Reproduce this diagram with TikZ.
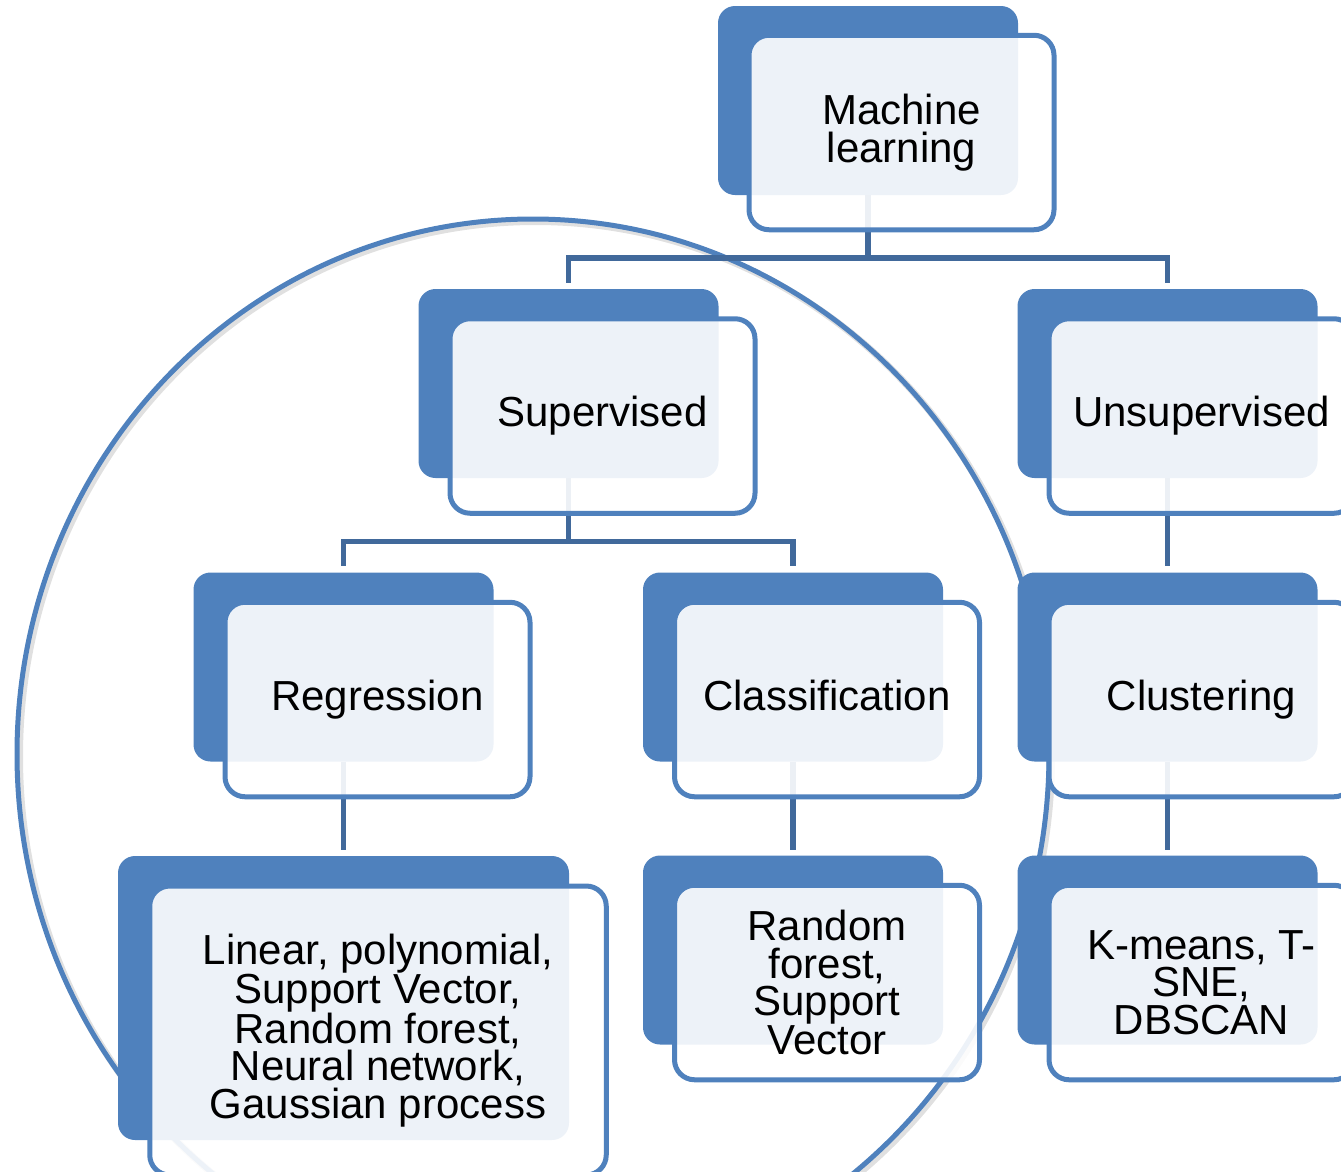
\documentclass[tikz,border=0pt]{standalone}
\usepackage{fontspec}
\setmainfont{Liberation Sans}
\definecolor{accent}{HTML}{4F81BD}
\definecolor{connc}{HTML}{41699B}
\begin{document}
\begin{tikzpicture}[x=1pt,y=-1pt,
  darkbox/.style={fill=accent, draw=none, rounded corners=17pt, minimum width=300pt, minimum height=189pt, inner sep=0pt, outer sep=0pt},
  litebox/.style={fill=white, fill opacity=0.9, text opacity=1, draw=accent, line width=5pt, rounded corners=20pt, minimum width=305pt, minimum height=194.5pt, inner sep=0pt, outer sep=0pt, align=center, font=\fontsize{42}{37.5}\selectfont},
  conn/.style={draw=connc, line width=5.5pt},
]
\useasboundingbox (0,0) rectangle (1341,1171);
\clip (0,0) rectangle (1341,1171);
% big oval with faint shadow
\draw[black, opacity=0.12, line width=7pt] (535.5,756.5) ellipse [x radius=516pt, y radius=535pt];
\draw[accent, line width=5pt] (533,754) ellipse [x radius=516pt, y radius=535pt];
% dark back boxes
\node[darkbox] (mlD)  at (868,100.5) {};
\node[darkbox] (supD) at (568.5,383.5) {};
\node[darkbox] (unsD) at (1167.5,383.5) {};
\node[darkbox] (regD) at (343.5,667) {};
\node[darkbox] (claD) at (793,667) {};
\node[darkbox] (cluD) at (1167.5,667) {};
\node[darkbox, minimum width=451pt, minimum height=284pt] (linD) at (343.5,998) {};
\node[darkbox] (rfD)  at (793,950) {};
\node[darkbox] (kmD)  at (1167.5,950) {};
% connectors
\draw[conn] (mlD.south) -- ++(0,63) coordinate (mlJ);
\draw[conn,shorten >=6pt] (mlJ) -| (supD.north);
\draw[conn,shorten >=6pt] (mlJ) -| (unsD.north);
\draw[conn] (supD.south) -- ++(0,63.5) coordinate (supJ);
\draw[conn,shorten >=7pt] (supJ) -| (regD.north);
\draw[conn,shorten >=7pt] (supJ) -| (claD.north);
\draw[conn,shorten >=7pt] (unsD.south) -- (cluD.north);
\draw[conn,shorten >=6pt] (regD.south) -- (linD.north);
\draw[conn,shorten >=6pt] (claD.south) -- (rfD.north);
\draw[conn,shorten >=6pt] (cluD.south) -- (kmD.north);
% front boxes with text
\node[litebox] (ml)  at (901.5,132.5) {Machine\\learning};
\node[litebox] (sup) at (602.5,416) {Supervised};
\node[litebox] (uns) at (1201.5,416) {Unsupervised};
\node[litebox] (reg) at (377.5,699.5) {Regression};
\node[litebox] (cla) at (827,699.5) {Classification\vphantom{g}};
\node[litebox] (clu) at (1201.5,699.5) {Clustering};
\node[litebox, minimum width=456.5pt, minimum height=289pt] (lin) at (378,1030.5) {Linear, polynomial,\\Support Vector,\\Random forest,\\Neural network,\\Gaussian process};
\node[litebox] (rf)  at (827,982.5) {Random\\forest,\\Support\\Vector};
\node[litebox] (km)  at (1201.5,982.5) {K-means, T-\\SNE,\\DBSCAN};
\end{tikzpicture}
\end{document}
